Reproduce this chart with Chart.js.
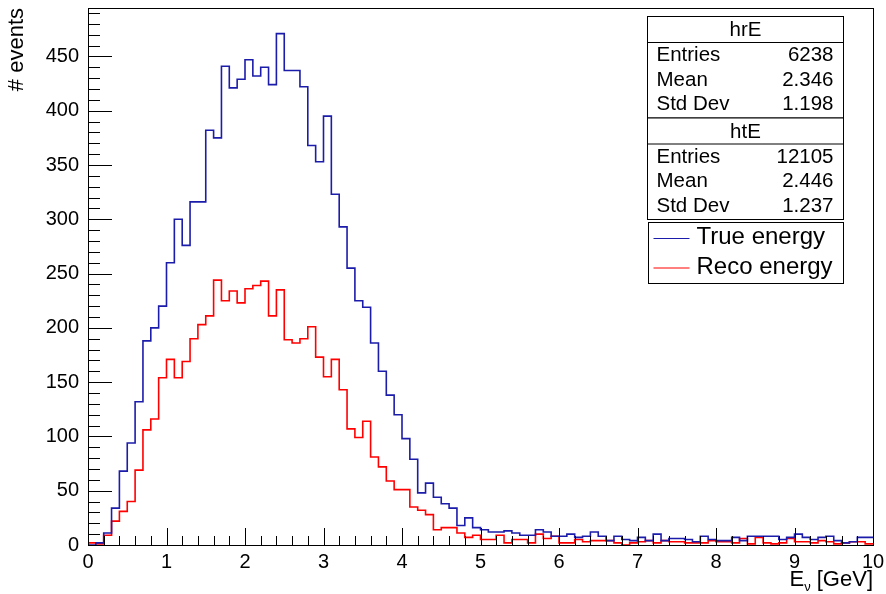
<!DOCTYPE html>
<html>
<head>
<meta charset="utf-8">
<script src="https://cdn.jsdelivr.net/npm/chart.js@4.4.1/dist/chart.umd.min.js"></script>
<style>
  html, body { margin: 0; padding: 0; background: #fff; }
  canvas { display: block; }
</style>
</head>
<body>
<canvas id="hist" width="886" height="594"></canvas>
<script>
// 100 bins of 0.1 GeV from 0 to 10
const binWidth = 0.1;
const binLow = Array.from({ length: 100 }, (_, i) => Math.round(i * binWidth * 10) / 10);

// htE : true neutrino energy (blue)
const trueCounts = [
  0, 2, 11, 34, 68, 94, 132, 188, 200, 220,
  260, 300, 276, 316, 316, 382, 375, 441, 421, 429,
  447, 432, 440, 424, 471, 437, 437, 422, 368, 353,
  395, 323, 293, 255, 225, 219, 186, 160, 138, 120,
  98, 79, 48, 57, 44, 38, 34, 18, 25, 16,
  14, 12, 12, 13, 11, 9, 9, 14, 12, 8,
  8, 10, 7, 8, 12, 8, 4, 8, 5, 4,
  7, 4, 10, 4, 6, 6, 5, 3, 8, 5,
  4, 4, 7, 4, 8, 8, 8, 8, 5, 7,
  10, 7, 5, 7, 8, 4, 2, 3, 7, 7
];

// hrE : reconstructed energy (red)
const recoCounts = [
  2, 1, 9, 22, 31, 40, 69, 106, 116, 154,
  171, 154, 169, 190, 203, 211, 244, 225, 234, 223,
  236, 239, 243, 211, 235, 189, 186, 190, 201, 173,
  155, 171, 143, 107, 99, 114, 81, 72, 59, 51,
  51, 35, 32, 28, 14, 16, 16, 11, 7, 9,
  5, 5, 9, 2, 5, 5, 2, 10, 6, 8,
  2, 2, 5, 3, 4, 4, 4, 2, 0, 2,
  3, 4, 2, 4, 3, 3, 2, 2, 2, 4,
  3, 3, 2, 6, 1, 7, 2, 1, 2, 6,
  3, 3, 2, 4, 3, 1, 2, 3, 3, 1
];

const statsReco = [['Entries', '6238'], ['Mean', '2.346'], ['Std Dev', '1.198']];
const statsTrue = [['Entries', '12105'], ['Mean', '2.446'], ['Std Dev', '1.237']];
const legendItems = [['True energy', '#1c1caa'], ['Reco energy', '#ff0000']];

const xMin = 0, xMax = 10;
const yMax = 494.6;
const FONT = "'Liberation Sans', Arial, Helvetica, sans-serif";

function stepPoints(counts) {
  const pts = counts.map((c, i) => ({ x: binLow[i], y: c }));
  pts.push({ x: xMax, y: counts[counts.length - 1] });
  return pts;
}

function drawStats(ctx, top, name, rows) {
  const left = 647.5, w = 196, head = 26, rowH = 24.5;
  const h = head + rows.length * rowH + 2;
  ctx.fillStyle = '#fff';
  ctx.fillRect(left, top, w, h);
  ctx.strokeRect(left, top, w, h);
  ctx.beginPath();
  ctx.moveTo(left, top + head); ctx.lineTo(left + w, top + head);
  ctx.stroke();
  ctx.fillStyle = '#000';
  ctx.font = '20.5px ' + FONT;
  ctx.textBaseline = 'middle';
  ctx.textAlign = 'center';
  ctx.fillText(name, left + w / 2, top + head / 2 + 1);
  rows.forEach((r, i) => {
    const cy = top + head + rowH * i + rowH / 2 + 1;
    ctx.textAlign = 'left';
    ctx.fillText(r[0], left + 9, cy);
    ctx.textAlign = 'right';
    ctx.fillText(r[1], left + w - 10, cy);
  });
  return top + h;
}

const rootFrame = {
  id: 'rootFrame',
  afterDatasetsDraw(chart) {
    const { ctx, chartArea: a, scales: { x, y } } = chart;
    ctx.save();
    ctx.strokeStyle = '#000';
    ctx.lineWidth = 1;
    ctx.strokeRect(a.left + 0.5, a.top + 0.5, a.right - a.left, a.bottom - a.top);

    // ticks inside the frame, ROOT style
    ctx.beginPath();
    for (let v = 0; v <= yMax; v += 10) {
      const py = Math.round(y.getPixelForValue(v)) + 0.5;
      const len = v % 50 === 0 ? 24 : 12;
      ctx.moveTo(a.left, py); ctx.lineTo(a.left + len, py);
    }
    for (let k = 0; k <= 50; k++) {
      const px = Math.round(x.getPixelForValue(k * 0.2)) + 0.5;
      const len = k % 5 === 0 ? 17 : 9;
      ctx.moveTo(px, a.bottom); ctx.lineTo(px, a.bottom - len);
    }
    ctx.stroke();

    // x title with subscript nu
    ctx.fillStyle = '#000';
    ctx.textBaseline = 'alphabetic';
    ctx.textAlign = 'left';
    const big = '22px ' + FONT, small = '13px ' + FONT;
    ctx.font = big;
    const wE = ctx.measureText('E').width;
    const wRest = ctx.measureText(' [GeV]').width;
    ctx.font = small;
    const wNu = ctx.measureText('ν').width;
    let tx = a.right - (wE + wNu + wRest);
    const base = 586;
    ctx.font = big;
    ctx.fillText('E', tx, base);
    ctx.font = small;
    ctx.fillText('ν', tx + wE, base + 5);
    ctx.font = big;
    ctx.fillText(' [GeV]', tx + wE + wNu, base);

    // stat boxes
    let bottom = drawStats(ctx, 16.5, 'hrE', statsReco);
    drawStats(ctx, bottom, 'htE', statsTrue);

    // legend
    const lx = 648.5, ly = 222.5, lw = 195, lh = 61;
    ctx.fillStyle = '#fff';
    ctx.fillRect(lx, ly, lw, lh);
    ctx.strokeStyle = '#000';
    ctx.strokeRect(lx, ly, lw, lh);
    ctx.font = '24px ' + FONT;
    ctx.textBaseline = 'middle';
    ctx.textAlign = 'left';
    legendItems.forEach((it, i) => {
      const cy = ly + 15 + i * 29.5;
      ctx.strokeStyle = it[1];
      ctx.beginPath();
      ctx.moveTo(lx + 5, cy + 1); ctx.lineTo(lx + 41, cy + 1);
      ctx.stroke();
      ctx.fillStyle = '#000';
      ctx.fillText(it[0], lx + 48, cy);
    });
    ctx.restore();
  }
};

new Chart(document.getElementById('hist'), {
  type: 'line',
  data: {
    datasets: [
      {
        label: 'True energy',
        data: stepPoints(trueCounts),
        borderColor: '#1c1caa',
        borderWidth: 1.6,
        stepped: 'before',
        pointRadius: 0,
        fill: false,
      },
      {
        label: 'Reco energy',
        data: stepPoints(recoCounts),
        borderColor: '#ff0000',
        borderWidth: 1.6,
        stepped: 'before',
        pointRadius: 0,
        fill: false,
      },
    ],
  },
  options: {
    responsive: false,
    animation: false,
    devicePixelRatio: 1,
    layout: { padding: { left: 0, top: 8, right: 13, bottom: 0 } },
    plugins: {
      legend: { display: false },
      tooltip: { enabled: false },
    },
    scales: {
      x: {
        type: 'linear',
        min: xMin,
        max: xMax,
        grid: { display: false, drawTicks: false },
        border: { display: false },
        ticks: {
          stepSize: 1,
          maxRotation: 0,
          autoSkip: false,
          padding: 5,
          color: '#000',
          font: { family: FONT, size: 20 },
        },
        afterFit: s => { s.height = 49; s.paddingLeft = 0; s.paddingRight = 0; },
      },
      y: {
        type: 'linear',
        min: 0,
        max: yMax,
        grid: { display: false, drawTicks: false },
        border: { display: false },
        ticks: {
          stepSize: 50,
          includeBounds: false,
          padding: 9,
          color: '#000',
          font: { family: FONT, size: 20 },
        },
        title: {
          display: true,
          text: '# events',
          align: 'end',
          color: '#000',
          font: { family: FONT, size: 22 },
          padding: { top: 4, bottom: 0 },
        },
        afterFit: s => { s.width = 88; s.paddingTop = 0; s.paddingBottom = 0; },
      },
    },
  },
  plugins: [rootFrame],
});
</script>
</body>
</html>
